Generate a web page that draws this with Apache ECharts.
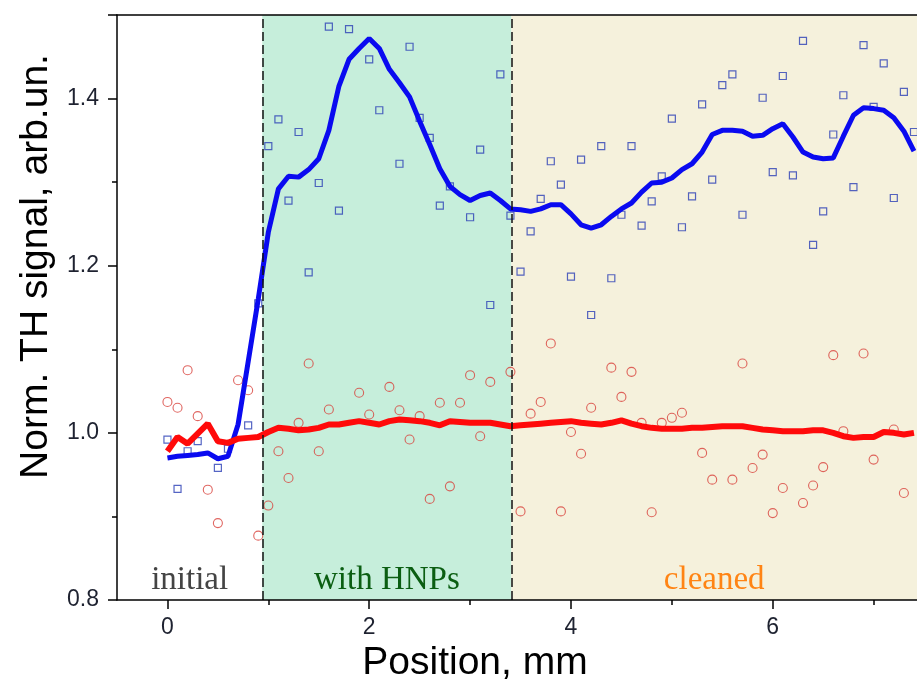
<!DOCTYPE html>
<html>
<head>
<meta charset="utf-8">
<script src="https://cdn.jsdelivr.net/npm/echarts@6/dist/echarts.min.js"></script>
<style>
  html, body { margin: 0; padding: 0; background: #fff; }
  #chart { width: 917px; height: 679px; }
</style>
</head>
<body>
<div id="chart"></div>
<script>
// smoothed curves, 0.1 mm step
const linePos = [0.0,0.1,0.2,0.3,0.4,0.5,0.6,0.7,0.8,0.9,1.0,1.1,1.2,1.3,1.4,1.5,1.6,1.7,1.8,1.9,
  2.0,2.1,2.2,2.3,2.4,2.5,2.6,2.7,2.8,2.9,3.0,3.1,3.2,3.3,3.4,3.5,3.6,3.7,3.8,3.9,
  4.0,4.1,4.2,4.3,4.4,4.5,4.6,4.7,4.8,4.9,5.0,5.1,5.2,5.3,5.4,5.5,5.6,5.7,5.8,5.9,
  6.0,6.1,6.2,6.3,6.4,6.5,6.6,6.7,6.8,6.9,7.0,7.1,7.2,7.3,7.4];
const blueLine = [0.970,0.972,0.973,0.974,0.976,0.969,0.972,1.010,1.085,1.160,
  1.240,1.292,1.307,1.306,1.315,1.328,1.362,1.415,1.447,1.460,
  1.472,1.460,1.435,1.419,1.402,1.373,1.345,1.316,1.295,1.285,
  1.278,1.284,1.287,1.278,1.268,1.267,1.265,1.268,1.273,1.273,
  1.262,1.249,1.245,1.249,1.259,1.268,1.275,1.288,1.299,1.300,
  1.305,1.315,1.322,1.336,1.357,1.362,1.362,1.361,1.355,1.356,
  1.364,1.370,1.354,1.336,1.330,1.328,1.329,1.355,1.380,1.389,
  1.388,1.386,1.377,1.361,1.337];
const redLine = [0.978,0.995,0.987,0.999,1.011,0.990,0.988,0.993,0.994,0.995,
  1.001,1.006,1.005,1.003,1.004,1.006,1.010,1.010,1.012,1.014,
  1.012,1.010,1.014,1.016,1.015,1.014,1.012,1.009,1.014,1.013,
  1.012,1.012,1.012,1.010,1.008,1.009,1.010,1.011,1.012,1.013,
  1.014,1.012,1.011,1.010,1.012,1.015,1.011,1.008,1.006,1.005,
  1.005,1.005,1.006,1.006,1.007,1.008,1.008,1.008,1.006,1.004,
  1.003,1.002,1.002,1.002,1.003,1.003,1.000,0.996,0.994,0.995,
  0.995,1.001,1.000,0.998,1.000];

// raw measurements
const bluePos = [0.0,0.1,0.2,0.3,0.5,0.6,0.8,0.9,1.0,1.1,1.2,1.3,1.4,1.5,1.6,1.7,1.8,2.0,2.1,2.3,
  2.4,2.5,2.6,2.7,2.8,3.0,3.1,3.2,3.3,3.4,3.5,3.6,3.7,3.8,3.9,4.0,4.1,4.2,4.3,4.4,
  4.5,4.6,4.7,4.8,4.9,5.0,5.1,5.2,5.3,5.4,5.5,5.6,5.7,5.9,6.0,6.1,6.2,6.3,6.4,6.5,
  6.6,6.7,6.8,6.9,7.0,7.1,7.2,7.3,7.4];
const blueRaw = [0.992,0.933,0.978,0.990,0.958,0.981,1.009,1.155,1.343,1.375,1.278,1.360,1.192,1.299,1.486,1.266,1.483,1.447,1.386,1.322,
  1.462,1.377,1.353,1.272,1.295,1.258,1.339,1.153,1.429,1.260,1.193,1.241,1.280,1.325,1.297,1.187,1.327,1.141,1.343,1.185,
  1.261,1.343,1.248,1.277,1.307,1.376,1.246,1.283,1.393,1.303,1.416,1.429,1.261,1.401,1.312,1.427,1.308,1.469,1.225,1.265,
  1.357,1.404,1.294,1.464,1.390,1.442,1.281,1.408,1.360];
const redPos = [0.0,0.1,0.2,0.3,0.4,0.5,0.7,0.8,0.9,1.0,1.1,1.2,1.3,1.4,1.5,1.6,1.9,2.0,2.2,2.3,
  2.4,2.5,2.6,2.7,2.8,2.9,3.0,3.1,3.2,3.4,3.5,3.6,3.7,3.8,3.9,4.0,4.1,4.2,4.4,4.5,
  4.6,4.7,4.8,4.9,5.0,5.1,5.3,5.4,5.6,5.7,5.8,5.9,6.0,6.1,6.3,6.4,6.5,6.6,6.7,6.9,
  7.0,7.2,7.3];
const redRaw = [1.037,1.030,1.075,1.020,0.932,0.892,1.063,1.051,0.877,0.913,0.978,0.946,1.012,1.083,0.978,1.028,1.048,1.022,1.055,1.027,
  0.992,1.020,0.921,1.036,0.936,1.036,1.069,0.996,1.061,1.073,0.906,1.023,1.037,1.107,0.906,1.001,0.975,1.030,1.078,1.043,
  1.073,1.012,0.905,1.012,1.018,1.024,0.976,0.944,0.944,1.083,0.958,0.974,0.904,0.934,0.916,0.937,0.959,1.093,1.002,1.095,
  0.968,1.004,0.928];

// region borders and names
const regionEdges = [-0.5, 0.94, 3.41, 7.43];
const regionNames = ['initial', 'with HNPs', 'cleaned'];
const regionFill = ['#ffffff', '#c6eedb', '#f5f1dc'];
const regionText = ['#444444', '#0b5e12', '#ff8414'];

const xMajor = [0, 2, 4, 6];
const xMinor = [1, 3, 5, 7];

function pairs(xs, ys) {
    return xs.map(function(x, i) { return [x, ys[i]]; });
}

const chart = echarts.init(document.getElementById('chart'));

const areas = regionNames.map(function(name, i) {
    return [
        {
            xAxis: regionEdges[i],
            itemStyle: { color: regionFill[i] },
            label: {
                show: true,
                position: 'insideBottom',
                distance: 3,
                formatter: name,
                color: regionText[i],
                fontFamily: 'Liberation Serif',
                fontSize: 33
            }
        },
        { xAxis: regionEdges[i + 1] }
    ];
});

const option = {
    backgroundColor: '#ffffff',
    animation: false,
    grid: { left: 117, right: 0, top: 15, bottom: 79, outerBoundsMode: 'none', containLabel: false },
    xAxis: [
        {
            type: 'value',
            min: -0.5,
            max: 7.43,
            z: 5,
            name: 'Position, mm',
            nameLocation: 'middle',
            nameGap: 36,
            nameTextStyle: {
                fontFamily: 'Liberation Sans',
                fontSize: 39,
                color: '#000',
                padding: [0, 84, 0, 0]
            },
            axisLine: { onZero: false, lineStyle: { color: '#000', width: 1.5 } },
            axisTick: { length: 9, customValues: xMajor, lineStyle: { color: '#000', width: 1.5 } },
            axisLabel: {
                customValues: xMajor,
                margin: 16,
                fontFamily: 'Liberation Sans',
                fontSize: 23,
                color: '#1e2230'
            },
            splitLine: { show: false }
        },
        {
            type: 'value',
            min: -0.5,
            max: 7.43,
            position: 'bottom',
            z: 5,
            axisLine: { show: false },
            axisTick: { length: 5, customValues: xMinor, lineStyle: { color: '#000', width: 1.5 } },
            axisLabel: { show: false },
            splitLine: { show: false }
        },
        {
            type: 'value',
            min: -0.5,
            max: 7.43,
            position: 'top',
            z: 5,
            axisLine: { onZero: false, lineStyle: { color: '#000', width: 1.5 } },
            axisTick: { show: false },
            axisLabel: { show: false },
            splitLine: { show: false }
        }
    ],
    yAxis: {
        type: 'value',
        min: 0.8,
        max: 1.5,
        interval: 0.2,
        z: 5,
        name: 'Norm. TH signal, arb.un.',
        nameLocation: 'middle',
        nameGap: 61,
        nameTextStyle: {
            fontFamily: 'Liberation Sans',
            fontSize: 39,
            color: '#000',
            padding: [0, 0, 0, 82]
        },
        axisLine: { onZero: false, lineStyle: { color: '#000', width: 1.5 } },
        axisTick: { length: 9, lineStyle: { color: '#000', width: 1.5 } },
        minorTick: { show: true, splitNumber: 2, length: 5, lineStyle: { color: '#000', width: 1.5 } },
        axisLabel: {
            showMaxLabel: false,
            margin: 18,
            fontFamily: 'Liberation Sans',
            fontSize: 23,
            color: '#1e2230',
            formatter: function(v) { return v.toFixed(1); }
        },
        splitLine: { show: false }
    },
    series: [
        {
            type: 'line',
            data: [],
            silent: true,
            markArea: { silent: true, data: areas },
            markLine: {
                silent: true,
                symbol: 'none',
                label: { show: false },
                lineStyle: { color: '#111', width: 1.5, type: [9, 4] },
                data: [{ xAxis: regionEdges[1] }, { xAxis: regionEdges[2] }]
            }
        },
        {
            name: 'blue raw',
            type: 'scatter',
            data: pairs(bluePos, blueRaw),
            symbol: 'rect',
            symbolSize: 7,
            itemStyle: { color: 'rgba(0,0,0,0)', borderColor: '#2b3fb5', borderWidth: 1.2 }
        },
        {
            name: 'red raw',
            type: 'scatter',
            data: pairs(redPos, redRaw),
            symbol: 'circle',
            symbolSize: 9,
            itemStyle: { color: 'rgba(0,0,0,0)', borderColor: '#d8403a', borderWidth: 1.1 }
        },
        {
            name: 'blue smooth',
            type: 'line',
            data: pairs(linePos, blueLine),
            showSymbol: false,
            lineStyle: { color: '#0a0af0', width: 5 }
        },
        {
            name: 'red smooth',
            type: 'line',
            data: pairs(linePos, redLine),
            showSymbol: false,
            lineStyle: { color: '#ff0a0a', width: 6 }
        }
    ]
};

chart.setOption(option);
</script>
</body>
</html>
